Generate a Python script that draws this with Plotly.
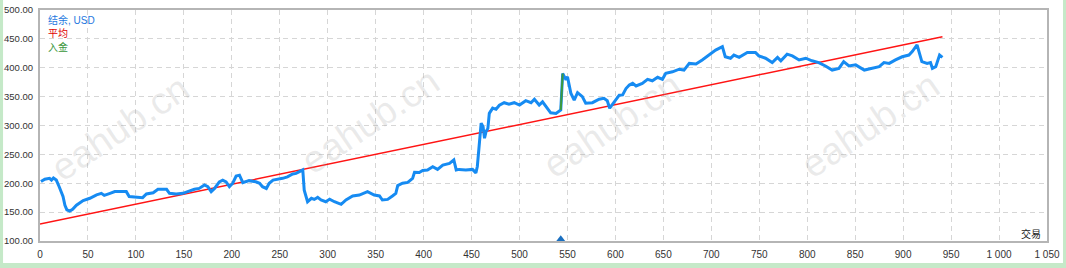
import plotly.graph_objects as go

# ---- data ----
balance_x = [1, 5, 10, 12, 14, 17, 20, 24, 26, 28, 31, 34, 38, 45, 52, 59, 64, 67, 73, 78,
             86, 90, 93, 100, 107, 111, 118, 123, 132, 135, 142, 149, 156, 161, 166, 171.5, 175, 178.5, 182, 187,
             190.5, 194, 197.5, 201, 204.5, 208, 211.5, 218, 225, 229, 232, 236, 239, 243, 253, 258, 263.5, 267, 270.5, 274,
             275.5, 279, 283, 286, 289.5, 293, 298, 302, 307, 314, 319, 326, 333, 341.5, 348.5, 354, 357, 362.5, 367.5, 371,
             373, 378, 383.5, 388.5, 390.5, 395.5, 399, 404, 409.5, 414.5, 420, 427, 431.5, 434, 437, 444, 451, 454.5, 456, 458,
             460, 462, 463.5, 465, 467, 468.5, 472, 475.5, 479, 484, 489, 494.5, 500, 506.5, 512, 515.5, 520.5, 524, 527.5, 532.5,
             538, 543, 545, 548.5, 550, 553.5, 557, 560.5, 565.5, 569, 576, 583, 588, 591.5, 594, 598.5, 604, 607.5, 611, 614.5,
             618, 621.5, 628, 633.5, 638.5, 644, 649, 652.5, 659.5, 666.5, 671.5, 677, 684, 690.5, 697.5, 704.5, 711.5, 714.5, 720, 723.5,
             729, 737.5, 746, 749.5, 756.5, 763.5, 769, 772.5, 779, 784.5, 791.5, 798.5, 805, 812, 819, 826, 833, 838, 843.5, 850.5,
             859.5, 868, 875, 880, 885.5, 892, 899, 906, 909.5, 914.5, 919.5, 925, 928.5, 930.5, 934, 938, 941]
balance_y = [203, 207, 208.5, 205.5, 209, 205.5, 194, 177, 162, 154, 152, 155, 162, 170, 174, 180, 182.5, 179, 182.5, 185.5,
             185.5, 185.5, 177, 175.5, 175, 181.5, 183.5, 189.5, 189.5, 182.5, 181.5, 182.5, 187, 189.5, 191, 197, 194, 185.5, 191, 202.5,
             205.5, 202.5, 194, 200, 212.5, 214, 201, 204.5, 202.5, 200, 194, 191, 200, 205.5, 208.5, 211, 216, 217, 220, 223,
             188, 168, 174, 172, 175.5, 171, 168, 172.5, 168, 163.5, 171, 178, 179.5, 185.5, 179.5, 178, 171, 172, 178, 182.5,
             196, 200, 201.5, 208.5, 219, 218.5, 222, 223, 228.5, 224, 231.5, 234.5, 240.5, 223, 224, 223, 224, 218, 229, 269,
             304, 298, 278, 289, 295, 321, 330, 328, 335, 339.5, 337, 339.5, 335.5, 343, 339.5, 345.5, 335.5, 341, 332.5, 322,
             321, 327, 390, 379, 384.5, 356, 344, 357, 350, 338.5, 339.5, 345.5, 347, 343, 330, 341, 352.5, 353, 364, 370,
             373, 368.5, 373, 380, 377.5, 383.5, 380, 390.5, 393, 397.5, 396, 407.5, 406.5, 413.5, 422, 430.5, 436.5, 419, 416.5, 422,
             418, 426.5, 426.5, 420.5, 416.5, 409, 418, 412, 423.5, 420.5, 413.5, 416.5, 412, 409, 403, 396, 399, 410.5, 403, 405,
             396, 399, 402, 409, 407.5, 413.5, 419, 422, 428, 439.5, 410.5, 407.5, 409, 399, 402, 422, 418]

average_x = [0, 941]
average_y = [129.5, 453.5]

deposit_x = [543, 545]
deposit_y = [327, 390]
deposit_marker_x = [543]
deposit_marker_y = [103]

x_tick_vals = list(range(0, 1051, 50))
x_tick_text = ["0", "50", "100", "150", "200", "250", "300", "350", "400", "450", "500",
               "550", "600", "650", "700", "750", "800", "850", "900", "950", "1 000", "1 050"]
y_tick_vals = [100, 150, 200, 250, 300, 350, 400, 450, 500]
y_tick_text = ["100.00", "150.00", "200.00", "250.00", "300.00", "350.00", "400.00", "450.00", "500.00"]

legend_labels = ["结余, USD", "平均", "入金"]
x_axis_label = "交易"
watermark_text = "eahub.cn"

BLUE = "#168bf2"
RED = "#ff1414"
GREEN = "#3c9a3c"
FONT = "Liberation Sans, Noto Sans CJK SC, sans-serif"

fig = go.Figure()
fig.add_trace(go.Scatter(x=average_x, y=average_y, mode="lines",
                         line=dict(color=RED, width=1.5), showlegend=False, hoverinfo="skip"))
fig.add_trace(go.Scatter(x=balance_x, y=balance_y, mode="lines",
                         line=dict(color=BLUE, width=3), showlegend=False))
fig.add_trace(go.Scatter(x=deposit_x, y=deposit_y, mode="lines",
                         line=dict(color=GREEN, width=2), showlegend=False))
fig.add_trace(go.Scatter(x=deposit_marker_x, y=deposit_marker_y, mode="markers",
                         marker=dict(symbol="triangle-up", size=8, color="#1a6fc0"),
                         showlegend=False))

# white page with green frame
fig.add_shape(type="rect", xref="paper", yref="paper",
              x0=-0.0367, x1=1.0159, y0=-0.0952, y1=1.12,
              fillcolor="white", line=dict(width=0), layer="below")

annotations = []
# legend texts
legend_colors = ["#1e78e0", "#e00000", "#3a963a"]
for i, (lab, col) in enumerate(zip(legend_labels, legend_colors)):
    annotations.append(dict(text=lab, xref="paper", yref="paper",
                            x=(46 - 40) / 1007, y=(241 - (20 + 13.5 * i)) / 231,
                            xanchor="left", yanchor="middle", showarrow=False,
                            font=dict(family=FONT, size=10, color=col)))
annotations.append(dict(text=x_axis_label, xref="paper", yref="paper",
                        x=(1043 - 40) / 1007, y=(241 - 234) / 231,
                        xanchor="right", yanchor="middle", showarrow=False,
                        font=dict(family=FONT, size=10, color="#222222")))
# watermarks
for cx, cy in [(120, 128), (370, 121), (612, 125), (870, 125)]:
    annotations.append(dict(text=watermark_text, xref="paper", yref="paper",
                            x=(cx - 40) / 1007, y=(241 - cy) / 231,
                            xanchor="center", yanchor="middle", showarrow=False,
                            textangle=-34,
                            font=dict(family="Liberation Sans", size=38,
                                      color="rgba(160,160,160,0.22)")))

fig.update_layout(
    width=1066, height=268,
    margin=dict(l=40, r=19, t=10, b=27),
    paper_bgcolor="#c5e9c8",
    plot_bgcolor="rgba(0,0,0,0)",
    showlegend=False,
    annotations=annotations,
    font=dict(family=FONT, size=10, color="#333333"),
)
fig.update_xaxes(range=[0, 1050], tickmode="array", tickvals=x_tick_vals, ticktext=x_tick_text,
                 automargin=False,
                 showgrid=True, gridcolor="#d6d6d6", griddash="5px,4px", gridwidth=1,
                 zeroline=False, showline=True, linecolor="#b5b5b5", linewidth=2, mirror=True,
                 ticks="outside", ticklen=3, tickcolor="rgba(0,0,0,0)",
                 tickfont=dict(family=FONT, size=10, color="#333333"))
fig.update_yaxes(range=[100, 500], tickmode="array", tickvals=y_tick_vals, ticktext=y_tick_text,
                 automargin=False,
                 showgrid=True, gridcolor="#d6d6d6", griddash="5px,4px", gridwidth=1,
                 zeroline=False, showline=True, linecolor="#b5b5b5", linewidth=2, mirror=True,
                 ticks="outside", ticklen=3, tickcolor="rgba(0,0,0,0)",
                 tickfont=dict(family=FONT, size=9.5, color="#333333"))

fig.write_html("out.html")
